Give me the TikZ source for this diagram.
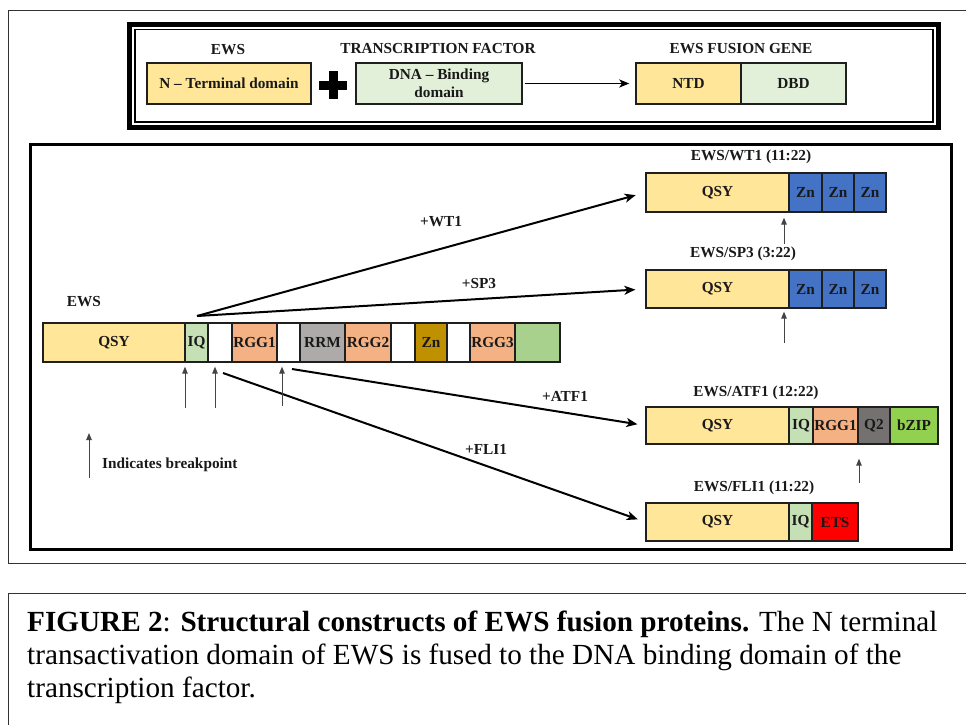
\documentclass[tikz,border=0pt]{standalone}
\usepackage{fontspec}
\setmainfont{Liberation Serif}
\usetikzlibrary{arrows.meta,calc}
\definecolor{qsy}{HTML}{FFE699}
\definecolor{dbdg}{HTML}{E2F0D9}
\definecolor{iqg}{HTML}{C5E0B4}
\definecolor{rgg}{HTML}{F4B183}
\definecolor{rrm}{HTML}{AEAAAA}
\definecolor{zngold}{HTML}{BF9000}
\definecolor{endg}{HTML}{A9D18E}
\definecolor{znblue}{HTML}{4472C4}
\definecolor{qtwo}{HTML}{767171}
\definecolor{bzip}{HTML}{92D050}
\definecolor{ets}{HTML}{FF0000}
\definecolor{bpgray}{HTML}{444444}
\tikzset{
  segbox/.style={draw=black!88, line width=1.3pt, inner sep=0pt,
    font=\bfseries\fontsize{15.3}{17}\selectfont, text=black!90},
  lbl/.style={font=\bfseries\fontsize{15.3}{17}\selectfont, inner sep=0pt, text=black!90},
  conn/.style={line width=2pt, -{Stealth[length=11pt,width=9pt,inset=3pt]}},
  bparrow/.style={line width=1pt, draw=bpgray, -{Triangle[length=7pt,width=5.5pt]}},
}
\newcommand\segm[7]{%
  \pgfmathsetmacro\segw{#3-#2}\pgfmathsetmacro\segh{#5-#4}%
  \node[segbox, fill=#6, minimum width=\segw pt, minimum height=\segh pt]
    (#1) at ({(#2+#3)/2},{(#4+#5)/2}) {#7};}
\begin{document}
\begin{tikzpicture}[x=1pt,y=-1pt]
\useasboundingbox (0,0) rectangle (966,724);
\clip (0,0) rectangle (966,724);
\fill[white] (0,0) rectangle (966,724);
% outer frames
\draw[line width=1pt, black!80] (8,10) rectangle (980,563);
\draw[line width=1pt, black!80] (8,593) rectangle (980,760);
% ---------- top box ----------
\draw[line width=5pt] (129.5,24.5) rectangle (938.5,127.5);
\draw[line width=1.2pt] (135,29.5) rectangle (933,122);
\node[lbl] (lews) at (228,50) {EWS};
\node[lbl] (ltf) at (438,49) {TRANSCRIPTION FACTOR};
\node[lbl] (lfg) at (741,49) {EWS FUSION GENE};
\segm{ntbox}{147}{311}{63}{104}{qsy}{N -- Terminal domain}
\segm{dnabox}{356}{522}{63}{104}{dbdg}{}
\node[lbl, align=center, font=\bfseries\fontsize{15.3}{18}\selectfont] (dnatext) at (dnabox.center) {DNA -- Binding\\domain};
\fill (328.5,71) rectangle (337.5,99);
\fill (319,80.5) rectangle (347,89.5);
\segm{ntd}{636}{741}{63}{104}{qsy}{NTD}
\segm{dbd}{741}{846}{63}{104}{dbdg}{DBD}
\draw[line width=1.8pt, -{Stealth[length=10pt,width=8pt,inset=2.5pt]}, shorten <=2pt, shorten >=6pt] (dnabox.east) -- (ntd.west);
% ---------- bottom panel ----------
\draw[line width=3pt] (30,144) rectangle (951,549);
\node[lbl] (ewsl) at (84,302) {EWS};
\segm{e1}{43}{185}{323}{362}{qsy}{QSY}
\segm{e2}{185}{208}{323}{362}{iqg}{IQ}
\segm{e3}{208}{232}{323}{362}{white}{}
\segm{e4}{232}{277}{323}{362}{rgg}{RGG1}
\segm{e5}{277}{300}{323}{362}{white}{}
\segm{e6}{300}{345}{323}{362}{rrm}{RRM}
\segm{e7}{345}{391}{323}{362}{rgg}{RGG2}
\segm{e8}{391}{415}{323}{362}{white}{}
\segm{e9}{415}{447}{323}{362}{zngold}{Zn}
\segm{e10}{447}{470}{323}{362}{white}{}
\segm{e11}{470}{515}{323}{362}{rgg}{RGG3}
\segm{e12}{515}{560}{323}{362}{endg}{}
% WT1
\node[lbl] (twt1) at (751,157) {EWS/WT1 (11:22)};
\segm{w1}{646}{789}{173}{212}{qsy}{QSY}
\segm{w2}{789}{822}{173}{212}{znblue}{Zn}
\segm{w3}{822}{854}{173}{212}{znblue}{Zn}
\segm{w4}{854}{886}{173}{212}{znblue}{Zn}
% SP3
\node[lbl] (tsp3) at (743,254) {EWS/SP3 (3:22)};
\segm{s1}{646}{789}{270}{308}{qsy}{QSY}
\segm{s2}{789}{822}{270}{308}{znblue}{Zn}
\segm{s3}{822}{854}{270}{308}{znblue}{Zn}
\segm{s4}{854}{886}{270}{308}{znblue}{Zn}
% ATF1
\node[lbl] (tatf1) at (756,393) {EWS/ATF1 (12:22)};
\segm{a1}{646}{789}{407}{444}{qsy}{QSY}
\segm{a2}{789}{813}{407}{444}{iqg}{IQ}
\segm{a3}{813}{858}{407}{444}{rgg}{RGG1}
\segm{a4}{858}{890}{407}{444}{qtwo}{Q2}
\segm{a5}{890}{938}{407}{444}{bzip}{bZIP}
% FLI1
\node[lbl] (tfli1) at (754,488) {EWS/FLI1 (11:22)};
\segm{f1}{646}{789}{503}{541}{qsy}{QSY}
\segm{f2}{789}{812}{503}{541}{iqg}{IQ}
\segm{f3}{812}{858}{503}{541}{ets}{ETS}
% connectors
\coordinate (o1) at (197,316);
\coordinate (o3) at (292,369);
\coordinate (o4) at (223,373);
\draw[conn, shorten >=10pt] (o1) -- (w1.west);
\draw[conn, shorten >=10pt] (o1) -- (s1.west);
\draw[conn, shorten >=8pt] (o3) -- (a1.west);
\draw[conn, shorten >=8pt] (o4) -- (f1.west);
\node[lbl] (pwt1) at (441,222) {+WT1};
\node[lbl] (psp3) at (479,284) {+SP3};
\node[lbl] (patf1) at (565,396) {+ATF1};
\node[lbl] (pfli1) at (486,449) {+FLI1};
% breakpoints
\coordinate (b1) at (185,408);
\coordinate (b2) at (215,408);
\coordinate (b3) at (282,406);
\draw[bparrow, shorten >=4pt] (b1) -- (b1 |- e1.south);
\draw[bparrow, shorten >=4pt] (b2) -- (b2 |- e3.south);
\draw[bparrow, shorten >=4pt] (b3) -- (b3 |- e5.south);
\coordinate (b5) at (784,244);
\coordinate (b6) at (784,343);
\coordinate (b7) at (859,483);
\draw[bparrow, shorten >=5pt] (b5) -- (b5 |- w1.south);
\draw[bparrow, shorten >=3pt] (b6) -- (b6 |- s1.south);
\draw[bparrow, shorten >=14pt] (b7) -- (b7 |- a4.south);
\coordinate (lg1) at (89,478);
\coordinate (lg2) at (89,433);
\draw[bparrow] (lg1) -- (lg2);
\node[lbl, anchor=west] (lgt) at (102,465) {Indicates breakpoint};
% caption
\node[anchor=base west, inner sep=0pt, font=\fontsize{29.2}{33}\selectfont] (cap1) at (27,631)
  {\textbf{FIGURE 2}: \textbf{Structural constructs of EWS fusion proteins.} The N terminal};
\node[anchor=base west, inner sep=0pt, font=\fontsize{29.2}{33}\selectfont] (cap2) at (27,664)
  {transactivation domain of EWS is fused to the DNA binding domain of the};
\node[anchor=base west, inner sep=0pt, font=\fontsize{29.2}{33}\selectfont] (cap3) at (27,697)
  {transcription factor.};
\end{tikzpicture}
\end{document}
